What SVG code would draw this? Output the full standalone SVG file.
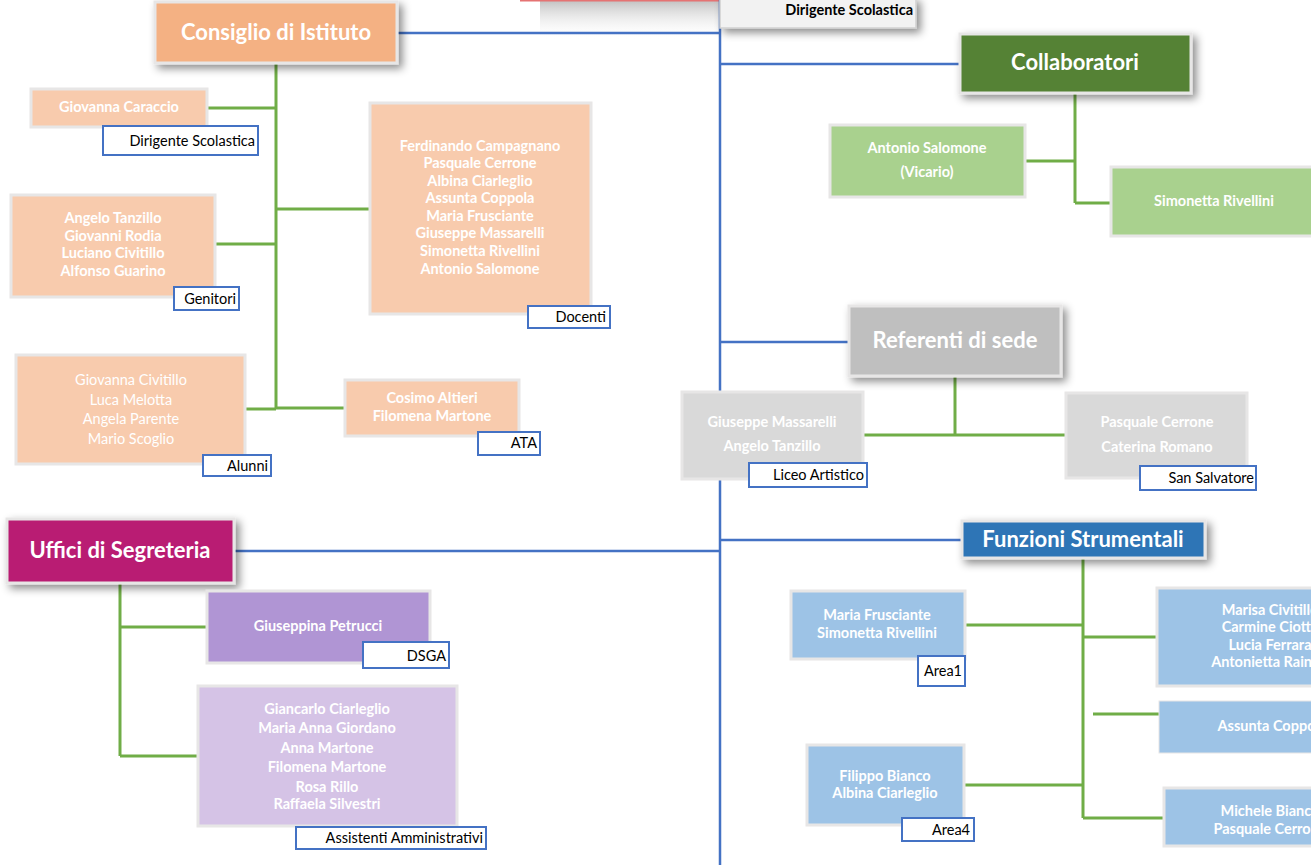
<svg xmlns="http://www.w3.org/2000/svg" width="1311" height="865" viewBox="0 0 1311 865">
<defs>
<filter id="sh" x="-20%" y="-30%" width="150%" height="180%">
<feDropShadow dx="4" dy="4" stdDeviation="4" flood-color="#000" flood-opacity="0.45"/>
</filter>
<linearGradient id="topsh" x1="0" y1="0" x2="0" y2="1">
<stop offset="0" stop-color="#b0b0b0" stop-opacity="0.8"/>
<stop offset="1" stop-color="#ffffff" stop-opacity="0"/>
</linearGradient>
</defs>
<style>
.hd{stroke:#e7e6e6;stroke-width:3;filter:url(#sh)}
.bx{stroke:#e7e6e6;stroke-width:3}
.lb{fill:#ffffff;stroke:#4472c4;stroke-width:2}
.ht{font-family:Lato,"Open Sans",sans-serif;font-weight:bold;font-size:22px;fill:#ffffff;text-anchor:middle}
.nt{font-family:Lato,"Open Sans",sans-serif;font-weight:bold;font-size:14.5px;fill:#ffffff;text-anchor:middle}
.nn{font-family:Lato,"Open Sans",sans-serif;font-size:14.5px;fill:#ffffff;text-anchor:middle}
.lt{font-family:Lato,"Open Sans",sans-serif;font-size:14.5px;fill:#000000;text-anchor:end}
.bl{stroke:#4472c4;stroke-width:2.5;fill:none}
.gr{stroke:#70ad47;stroke-width:3;fill:none}
</style>
<rect width="1311" height="865" fill="#ffffff"/>
<rect x="540" y="0" width="180" height="40" fill="url(#topsh)"/>
<line x1="520" y1="0.5" x2="720" y2="0.5" stroke="#e57373" stroke-width="2"/>

<g id="connectors">
<line class="bl" x1="720" y1="0" x2="720" y2="865"/>
<line class="bl" x1="397" y1="33" x2="720" y2="33"/>
<line class="bl" x1="720" y1="64" x2="960" y2="64"/>
<line class="bl" x1="720" y1="342" x2="849" y2="342"/>
<line class="bl" x1="720" y1="540" x2="962" y2="540"/>
<line class="bl" x1="234" y1="551" x2="720" y2="551"/>
<line class="gr" x1="276" y1="64" x2="276" y2="409"/>
<line class="gr" x1="207" y1="108" x2="276" y2="108"/>
<line class="gr" x1="276" y1="209" x2="370" y2="209"/>
<line class="gr" x1="215" y1="244" x2="276" y2="244"/>
<line class="gr" x1="245" y1="409" x2="276" y2="409"/>
<line class="gr" x1="276" y1="408" x2="345" y2="408"/>
<line class="gr" x1="1075" y1="93" x2="1075" y2="203"/>
<line class="gr" x1="1025" y1="161" x2="1075" y2="161"/>
<line class="gr" x1="1075" y1="203" x2="1111" y2="203"/>
<line class="gr" x1="955" y1="376" x2="955" y2="435"/>
<line class="gr" x1="863" y1="435" x2="1066" y2="435"/>
<line class="gr" x1="1083" y1="558" x2="1083" y2="818"/>
<line class="gr" x1="965" y1="625" x2="1083" y2="625"/>
<line class="gr" x1="1083" y1="637" x2="1157" y2="637"/>
<line class="gr" x1="1093" y1="714" x2="1159" y2="714" stroke-width="4"/>
<line class="gr" x1="964" y1="785" x2="1083" y2="785"/>
<line class="gr" x1="1083" y1="818" x2="1164" y2="818"/>
<line class="gr" x1="120" y1="584" x2="120" y2="756"/>
<line class="gr" x1="120" y1="627" x2="207" y2="627"/>
<line class="gr" x1="120" y1="756" x2="198" y2="756"/>
</g>

<g id="dirigente">
<rect x="720" y="-2" width="196" height="30" fill="#f2f2f2" stroke="#d0d0d0" stroke-width="1.5" filter="url(#sh)"/>
<text x="913" y="15" font-family="Lato,'Open Sans',sans-serif" font-weight="bold" font-size="14.5" fill="#000" text-anchor="end">Dirigente Scolastica</text>
</g>

<g id="consiglio">
<rect class="hd" x="155" y="2" width="242" height="61" fill="#f4b183"/>
<text class="ht" x="276" y="40">Consiglio di Istituto</text>
</g>

<g id="caraccio">
<rect class="bx" x="31" y="89" width="176" height="38" fill="#f8cbad"/>
<text class="nt" x="119" y="112">Giovanna Caraccio</text>
<rect class="lb" x="103" y="126" width="155" height="29"/>
<text class="lt" x="255" y="146">Dirigente Scolastica</text>
</g>

<g id="docenti">
<rect class="bx" x="370" y="103" width="221" height="211" fill="#f8cbad"/>
<text class="nt" x="480" y="151">Ferdinando Campagnano</text>
<text class="nt" x="480" y="168">Pasquale Cerrone</text>
<text class="nt" x="480" y="186">Albina Ciarleglio</text>
<text class="nt" x="480" y="203">Assunta Coppola</text>
<text class="nt" x="480" y="221">Maria Frusciante</text>
<text class="nt" x="480" y="238">Giuseppe Massarelli</text>
<text class="nt" x="480" y="256">Simonetta Rivellini</text>
<text class="nt" x="480" y="274">Antonio Salomone</text>
<rect class="lb" x="528" y="306" width="82" height="22"/>
<text class="lt" x="606" y="322">Docenti</text>
</g>

<g id="genitori">
<rect class="bx" x="11" y="195" width="204" height="102" fill="#f8cbad"/>
<text class="nt" x="113" y="223">Angelo Tanzillo</text>
<text class="nt" x="113" y="241">Giovanni Rodia</text>
<text class="nt" x="113" y="258">Luciano Civitillo</text>
<text class="nt" x="113" y="276">Alfonso Guarino</text>
<rect class="lb" x="174" y="287" width="65" height="23"/>
<text class="lt" x="236" y="304">Genitori</text>
</g>

<g id="alunni">
<rect class="bx" x="16" y="355" width="229" height="109" fill="#f8cbad"/>
<text class="nn" x="131" y="385">Giovanna Civitillo</text>
<text class="nn" x="131" y="405">Luca Melotta</text>
<text class="nn" x="131" y="424">Angela Parente</text>
<text class="nn" x="131" y="444">Mario Scoglio</text>
<rect class="lb" x="203" y="455" width="68" height="21"/>
<text class="lt" x="268" y="471">Alunni</text>
</g>

<g id="ata">
<rect class="bx" x="345" y="380" width="174" height="56" fill="#f8cbad"/>
<text class="nt" x="432" y="403">Cosimo Altieri</text>
<text class="nt" x="432" y="421">Filomena Martone</text>
<rect class="lb" x="478" y="432" width="62" height="23"/>
<text class="lt" x="537" y="448">ATA</text>
</g>

<g id="collaboratori">
<rect class="hd" x="960" y="34" width="231" height="59" fill="#548235"/>
<text class="ht" x="1075" y="70">Collaboratori</text>
</g>

<g id="salomone">
<rect class="bx" x="830" y="125" width="195" height="72" fill="#a9d18e"/>
<text class="nt" x="927" y="153">Antonio Salomone</text>
<text class="nt" x="927" y="177">(Vicario)</text>
</g>

<g id="rivellini">
<rect class="bx" x="1111" y="167" width="212" height="69" fill="#a9d18e"/>
<text class="nt" x="1214" y="206">Simonetta Rivellini</text>
</g>

<g id="referenti">
<rect class="hd" x="849" y="306" width="212" height="70" fill="#bfbfbf"/>
<text class="ht" x="955" y="348">Referenti di sede</text>
</g>

<g id="liceo">
<rect class="bx" x="682" y="392" width="181" height="87" fill="#d9d9d9"/>
<text class="nt" x="772" y="427">Giuseppe Massarelli</text>
<text class="nt" x="772" y="451">Angelo Tanzillo</text>
<rect class="lb" x="749" y="463" width="118" height="24"/>
<text class="lt" x="864" y="480">Liceo Artistico</text>
</g>

<g id="sansalvatore">
<rect class="bx" x="1066" y="393" width="181" height="85" fill="#d9d9d9"/>
<text class="nt" x="1157" y="427">Pasquale Cerrone</text>
<text class="nt" x="1157" y="452">Caterina Romano</text>
<rect class="lb" x="1140" y="466" width="116" height="24"/>
<text class="lt" x="1254" y="483">San Salvatore</text>
</g>

<g id="funzioni">
<rect class="hd" x="962" y="521" width="243" height="37" fill="#2e75b6"/>
<text class="ht" x="1083" y="547">Funzioni Strumentali</text>
</g>

<g id="area1">
<rect class="bx" x="791" y="591" width="174" height="68" fill="#9dc3e6"/>
<text class="nt" x="877" y="620">Maria Frusciante</text>
<text class="nt" x="877" y="638">Simonetta Rivellini</text>
<rect class="lb" x="918" y="656" width="47" height="30"/>
<text class="lt" x="962" y="676">Area1</text>
</g>

<g id="area2">
<rect class="bx" x="1157" y="588" width="166" height="98" fill="#9dc3e6"/>
<text class="nt" x="1270" y="615">Marisa Civitillo</text>
<text class="nt" x="1270" y="632">Carmine Ciotta</text>
<text class="nt" x="1270" y="650">Lucia Ferrara</text>
<text class="nt" x="1270" y="667">Antonietta Raineri</text>
</g>

<g id="area3">
<rect x="1159" y="701" width="164" height="52" fill="#9dc3e6" stroke="#e7e6e6" stroke-width="1"/>
<text class="nt" x="1272" y="731">Assunta Coppola</text>
</g>

<g id="area4">
<rect class="bx" x="807" y="745" width="157" height="80" fill="#9dc3e6"/>
<text class="nt" x="885" y="781">Filippo Bianco</text>
<text class="nt" x="885" y="798">Albina Ciarleglio</text>
<rect class="lb" x="902" y="818" width="72" height="23"/>
<text class="lt" x="970" y="835">Area4</text>
</g>

<g id="area5">
<rect class="bx" x="1164" y="788" width="159" height="58" fill="#9dc3e6"/>
<text class="nt" x="1270" y="816">Michele Bianco</text>
<text class="nt" x="1270" y="834">Pasquale Cerrone</text>
</g>

<g id="uffici">
<rect class="hd" x="7" y="519" width="227" height="64" fill="#b91d73"/>
<text class="ht" x="120" y="558">Uffici di Segreteria</text>
</g>

<g id="dsga">
<rect class="bx" x="207" y="591" width="223" height="72" fill="#b095d4"/>
<text class="nt" x="318" y="631">Giuseppina Petrucci</text>
<rect class="lb" x="363" y="642" width="86" height="26"/>
<text class="lt" x="446" y="661">DSGA</text>
</g>

<g id="assistenti">
<rect class="bx" x="198" y="686" width="259" height="140" fill="#d5c3e6"/>
<text class="nt" x="327" y="714">Giancarlo Ciarleglio</text>
<text class="nt" x="327" y="733">Maria Anna Giordano</text>
<text class="nt" x="327" y="753">Anna Martone</text>
<text class="nt" x="327" y="772">Filomena Martone</text>
<text class="nt" x="327" y="792">Rosa Rillo</text>
<text class="nt" x="327" y="809">Raffaela Silvestri</text>
<rect class="lb" x="296" y="827" width="190" height="22"/>
<text class="lt" x="483" y="843">Assistenti Amministrativi</text>
</g>
</svg>
